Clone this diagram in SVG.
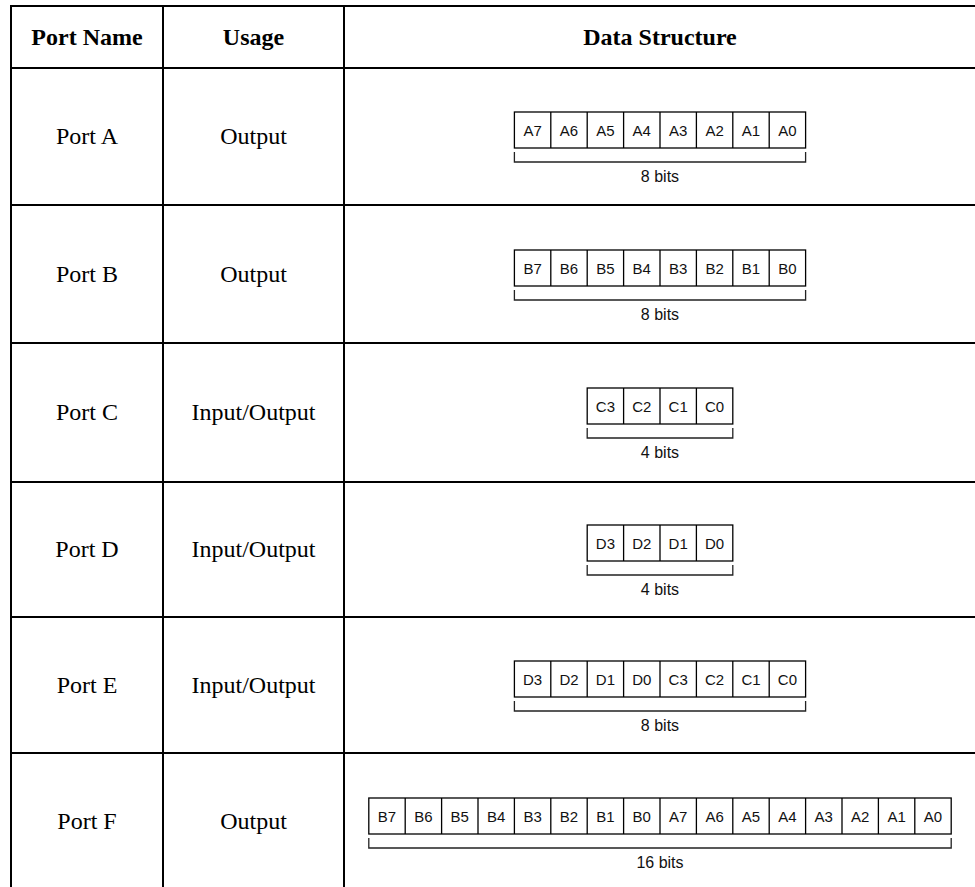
<svg xmlns="http://www.w3.org/2000/svg" width="975" height="887" viewBox="0 0 975 887">
<style>
.grid{stroke:#000;stroke-width:2;fill:none}
.hd{font-family:"Liberation Serif","Times New Roman",serif;font-size:24px;font-weight:bold;text-anchor:middle;fill:#000}
.cl{font-family:"Liberation Serif","Times New Roman",serif;font-size:24px;text-anchor:middle;fill:#000}
.box{stroke:#000;stroke-width:1.3;fill:#fff}
.sep{stroke:#000;stroke-width:1.3}
.br{stroke:#222;stroke-width:1.3;fill:none}
.bl{font-family:"Liberation Sans",Arial,sans-serif;font-size:15px;text-anchor:middle;fill:#111}
.bits{font-family:"Liberation Sans",Arial,sans-serif;font-size:16px;text-anchor:middle;fill:#111}
</style>
<rect width="975" height="887" fill="#fff"/>
<g id="table-grid" class="grid">
<line x1="11" y1="6" x2="977" y2="6"/>
<line x1="11" y1="68" x2="977" y2="68"/>
<line x1="11" y1="205" x2="977" y2="205"/>
<line x1="11" y1="343" x2="977" y2="343"/>
<line x1="11" y1="482" x2="977" y2="482"/>
<line x1="11" y1="617" x2="977" y2="617"/>
<line x1="11" y1="753" x2="977" y2="753"/>
<line x1="11" y1="5" x2="11" y2="890"/>
<line x1="163" y1="5" x2="163" y2="890"/>
<line x1="344" y1="5" x2="344" y2="890"/>
</g>
<g id="header">
<text class="hd" x="87" y="45">Port Name</text>
<text class="hd" x="253.5" y="45">Usage</text>
<text class="hd" x="660" y="45">Data Structure</text>
</g>
<g id="row-a">
<text class="cl" x="87" y="144">Port A</text>
<text class="cl" x="253.5" y="144">Output</text>
<g transform="translate(514.4,112)">
<rect class="box" x="0" y="0" width="291.2" height="36"/>
<path class="sep" d="M36.4,0V36M72.8,0V36M109.2,0V36M145.6,0V36M182,0V36M218.4,0V36M254.8,0V36"/>
<text class="bl" x="18.2" y="24">A7</text><text class="bl" x="54.6" y="24">A6</text><text class="bl" x="91" y="24">A5</text><text class="bl" x="127.4" y="24">A4</text><text class="bl" x="163.8" y="24">A3</text><text class="bl" x="200.2" y="24">A2</text><text class="bl" x="236.6" y="24">A1</text><text class="bl" x="273" y="24">A0</text>
<path class="br" d="M0,40V50H291.2V40"/>
<text class="bits" x="145.6" y="70">8 bits</text>
</g>
</g>
<g id="row-b">
<text class="cl" x="87" y="281.5">Port B</text>
<text class="cl" x="253.5" y="281.5">Output</text>
<g transform="translate(514.4,250)">
<rect class="box" x="0" y="0" width="291.2" height="36"/>
<path class="sep" d="M36.4,0V36M72.8,0V36M109.2,0V36M145.6,0V36M182,0V36M218.4,0V36M254.8,0V36"/>
<text class="bl" x="18.2" y="24">B7</text><text class="bl" x="54.6" y="24">B6</text><text class="bl" x="91" y="24">B5</text><text class="bl" x="127.4" y="24">B4</text><text class="bl" x="163.8" y="24">B3</text><text class="bl" x="200.2" y="24">B2</text><text class="bl" x="236.6" y="24">B1</text><text class="bl" x="273" y="24">B0</text>
<path class="br" d="M0,40V50H291.2V40"/>
<text class="bits" x="145.6" y="70">8 bits</text>
</g>
</g>
<g id="row-c">
<text class="cl" x="87" y="420">Port C</text>
<text class="cl" x="253.5" y="420">Input/Output</text>
<g transform="translate(587.2,388)">
<rect class="box" x="0" y="0" width="145.6" height="36"/>
<path class="sep" d="M36.4,0V36M72.8,0V36M109.2,0V36"/>
<text class="bl" x="18.2" y="24">C3</text><text class="bl" x="54.6" y="24">C2</text><text class="bl" x="91" y="24">C1</text><text class="bl" x="127.4" y="24">C0</text>
<path class="br" d="M0,40V50H145.6V40"/>
<text class="bits" x="72.8" y="70">4 bits</text>
</g>
</g>
<g id="row-d">
<text class="cl" x="87" y="557">Port D</text>
<text class="cl" x="253.5" y="557">Input/Output</text>
<g transform="translate(587.2,525)">
<rect class="box" x="0" y="0" width="145.6" height="36"/>
<path class="sep" d="M36.4,0V36M72.8,0V36M109.2,0V36"/>
<text class="bl" x="18.2" y="24">D3</text><text class="bl" x="54.6" y="24">D2</text><text class="bl" x="91" y="24">D1</text><text class="bl" x="127.4" y="24">D0</text>
<path class="br" d="M0,40V50H145.6V40"/>
<text class="bits" x="72.8" y="70">4 bits</text>
</g>
</g>
<g id="row-e">
<text class="cl" x="87" y="692.5">Port E</text>
<text class="cl" x="253.5" y="692.5">Input/Output</text>
<g transform="translate(514.4,661)">
<rect class="box" x="0" y="0" width="291.2" height="36"/>
<path class="sep" d="M36.4,0V36M72.8,0V36M109.2,0V36M145.6,0V36M182,0V36M218.4,0V36M254.8,0V36"/>
<text class="bl" x="18.2" y="24">D3</text><text class="bl" x="54.6" y="24">D2</text><text class="bl" x="91" y="24">D1</text><text class="bl" x="127.4" y="24">D0</text><text class="bl" x="163.8" y="24">C3</text><text class="bl" x="200.2" y="24">C2</text><text class="bl" x="236.6" y="24">C1</text><text class="bl" x="273" y="24">C0</text>
<path class="br" d="M0,40V50H291.2V40"/>
<text class="bits" x="145.6" y="70">8 bits</text>
</g>
</g>
<g id="row-f">
<text class="cl" x="87" y="828.5">Port F</text>
<text class="cl" x="253.5" y="828.5">Output</text>
<g transform="translate(368.8,798)">
<rect class="box" x="0" y="0" width="582.4" height="36"/>
<path class="sep" d="M36.4,0V36M72.8,0V36M109.2,0V36M145.6,0V36M182,0V36M218.4,0V36M254.8,0V36M291.2,0V36M327.6,0V36M364,0V36M400.4,0V36M436.8,0V36M473.2,0V36M509.6,0V36M546,0V36"/>
<text class="bl" x="18.2" y="24">B7</text><text class="bl" x="54.6" y="24">B6</text><text class="bl" x="91" y="24">B5</text><text class="bl" x="127.4" y="24">B4</text><text class="bl" x="163.8" y="24">B3</text><text class="bl" x="200.2" y="24">B2</text><text class="bl" x="236.6" y="24">B1</text><text class="bl" x="273" y="24">B0</text><text class="bl" x="309.4" y="24">A7</text><text class="bl" x="345.8" y="24">A6</text><text class="bl" x="382.2" y="24">A5</text><text class="bl" x="418.6" y="24">A4</text><text class="bl" x="455" y="24">A3</text><text class="bl" x="491.4" y="24">A2</text><text class="bl" x="527.8" y="24">A1</text><text class="bl" x="564.2" y="24">A0</text>
<path class="br" d="M0,40V50H582.4V40"/>
<text class="bits" x="291.2" y="70">16 bits</text>
</g>
</g>
</svg>
